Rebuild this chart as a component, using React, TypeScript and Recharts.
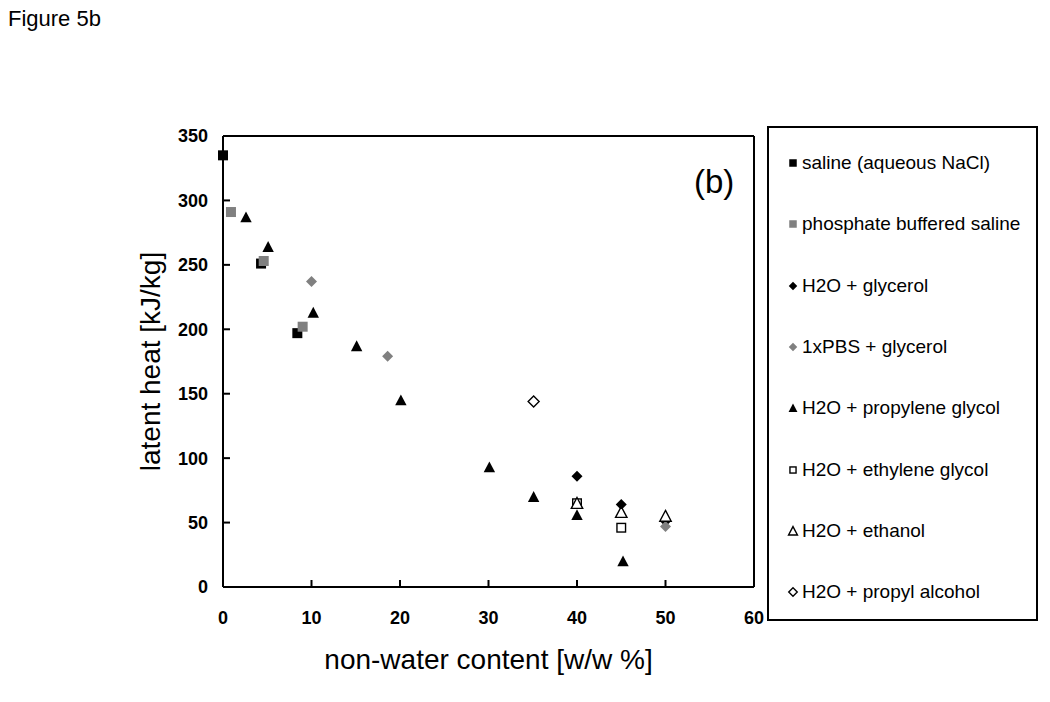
import React from 'react';
import { ScatterChart, Scatter, XAxis, YAxis, Label } from 'recharts';

const xTicks = [0, 10, 20, 30, 40, 50, 60];
const yTicks = [0, 50, 100, 150, 200, 250, 300, 350];

const saline = [{ x: 0, y: 335 }, { x: 4.3, y: 251 }, { x: 8.4, y: 197 }];
const pbs = [{ x: 0.9, y: 291 }, { x: 4.6, y: 253 }, { x: 9.0, y: 202 }];
const h2oGlycerol = [{ x: 40, y: 86 }, { x: 45, y: 64 }, { x: 50, y: 51 }];
const pbsGlycerol = [{ x: 10, y: 237 }, { x: 18.6, y: 179 }, { x: 50, y: 47 }];
const propyleneGlycol = [
  { x: 2.6, y: 287 }, { x: 5.1, y: 264 }, { x: 10.2, y: 213 }, { x: 15.1, y: 187 }, { x: 20.1, y: 145 },
  { x: 30.1, y: 93 }, { x: 35.1, y: 70 }, { x: 40, y: 56 }, { x: 45.2, y: 20 },
];
const ethyleneGlycol = [{ x: 40, y: 65 }, { x: 45, y: 46 }];
const ethanol = [{ x: 40, y: 65 }, { x: 45, y: 58 }, { x: 50, y: 55 }];
const propylAlcohol = [{ x: 35.1, y: 144 }];

type Kind = 'square' | 'diamond' | 'triangle';

const series: { name: string; data: { x: number; y: number }[]; kind: Kind; fill: string; stroke: string }[] = [
  { name: 'saline (aqueous NaCl)', data: saline, kind: 'square', fill: '#000', stroke: '#000' },
  { name: 'phosphate buffered saline', data: pbs, kind: 'square', fill: '#808080', stroke: '#808080' },
  { name: 'H2O + glycerol', data: h2oGlycerol, kind: 'diamond', fill: '#000', stroke: '#000' },
  { name: '1xPBS + glycerol', data: pbsGlycerol, kind: 'diamond', fill: '#808080', stroke: '#808080' },
  { name: 'H2O + propylene glycol', data: propyleneGlycol, kind: 'triangle', fill: '#000', stroke: '#000' },
  { name: 'H2O + ethylene glycol', data: ethyleneGlycol, kind: 'square', fill: '#fff', stroke: '#000' },
  { name: 'H2O + ethanol', data: ethanol, kind: 'triangle', fill: '#fff', stroke: '#000' },
  { name: 'H2O + propyl alcohol', data: propylAlcohol, kind: 'diamond', fill: '#fff', stroke: '#000' },
];

const font = '"Liberation Sans", Arial, sans-serif';

function Marker({ cx, cy, kind, fill, stroke, s }: { cx: number; cy: number; kind: Kind; fill: string; stroke: string; s: number }) {
  const open = fill === '#fff';
  const sw = open ? 1.4 : 0;
  if (kind === 'square') {
    const h = open ? s / 2 - 0.7 : s / 2;
    return <rect x={cx - h} y={cy - h} width={h * 2} height={h * 2} fill={fill} stroke={stroke} strokeWidth={sw} />;
  }
  if (kind === 'diamond') {
    const h = s / 2 + 0.5;
    return <polygon points={`${cx},${cy - h} ${cx + h},${cy} ${cx},${cy + h} ${cx - h},${cy}`} fill={fill} stroke={stroke} strokeWidth={sw} />;
  }
  const h = s / 2 + 0.7;
  return <polygon points={`${cx},${cy - h} ${cx + h},${cy + h * 0.9} ${cx - h},${cy + h * 0.9}`} fill={fill} stroke={stroke} strokeWidth={sw} />;
}

const tickStyle = { fill: '#000', fontSize: 18, fontWeight: 'bold' as const, fontFamily: font };
const axisLine = { stroke: '#000', strokeWidth: 2 };

export default function App() {
  return (
    <div style={{ position: 'absolute', left: 0, top: 0, width: 1050, height: 702, background: '#fff', fontFamily: font }}>
      <div style={{ position: 'absolute', left: 8, top: 6, fontSize: 22 }}>Figure 5b</div>
      <ScatterChart width={1050} height={702} margin={{ top: 126, right: 286, bottom: 75, left: 163 }}>
        <XAxis
          xAxisId="b"
          type="number"
          dataKey="x"
          domain={[0, 60]}
          ticks={xTicks}
          height={40}
          tickSize={-7}
          tickMargin={31}
          tick={tickStyle}
          axisLine={axisLine}
          tickLine={axisLine}
        >
          <Label value="non-water content [w/w %]" position="bottom" offset={22} style={{ fontSize: 28, fill: '#000', fontFamily: font }} />
        </XAxis>
        <XAxis xAxisId="t" orientation="top" type="number" domain={[0, 60]} ticks={xTicks} height={10} tickSize={-7} tick={false} axisLine={axisLine} tickLine={axisLine} />
        <YAxis
          yAxisId="l"
          type="number"
          dataKey="y"
          domain={[0, 350]}
          ticks={yTicks}
          width={60}
          tickSize={-7}
          tickMargin={22}
          tick={tickStyle}
          axisLine={axisLine}
          tickLine={axisLine}
        >
          <Label value="latent heat [kJ/kg]" angle={-90} position="center" dx={-43} style={{ fontSize: 28, fill: '#000', fontFamily: font, textAnchor: 'middle' }} />
        </YAxis>
        <YAxis yAxisId="r" orientation="right" type="number" domain={[0, 350]} ticks={yTicks} width={10} tickSize={-7} tick={false} axisLine={axisLine} tickLine={axisLine} />
        {series.map((s) => (
          <Scatter
            key={s.name}
            name={s.name}
            data={s.data}
            xAxisId="b"
            yAxisId="l"
            isAnimationActive={false}
            shape={(p: any) => <Marker cx={p.cx} cy={p.cy} kind={s.kind} fill={s.fill} stroke={s.stroke} s={10} />}
          />
        ))}
      </ScatterChart>
      <div style={{ position: 'absolute', left: 694, top: 163, fontSize: 33 }}>(b)</div>
      <div
        style={{
          position: 'absolute',
          left: 767,
          top: 126,
          width: 267,
          height: 491,
          border: '2px solid #000',
        }}
      >
        {series.map((s, i) => (
          <div key={s.name} style={{ position: 'absolute', left: 17, top: 35 - 14 + i * 61.3, height: 28, display: 'flex', alignItems: 'center', fontSize: 19, whiteSpace: 'nowrap' }}>
            <svg width={14} height={14} style={{ marginRight: 2 }}>
              <Marker cx={7} cy={7} kind={s.kind} fill={s.fill} stroke={s.stroke} s={7.5} />
            </svg>
            {s.name}
          </div>
        ))}
      </div>
    </div>
  );
}
